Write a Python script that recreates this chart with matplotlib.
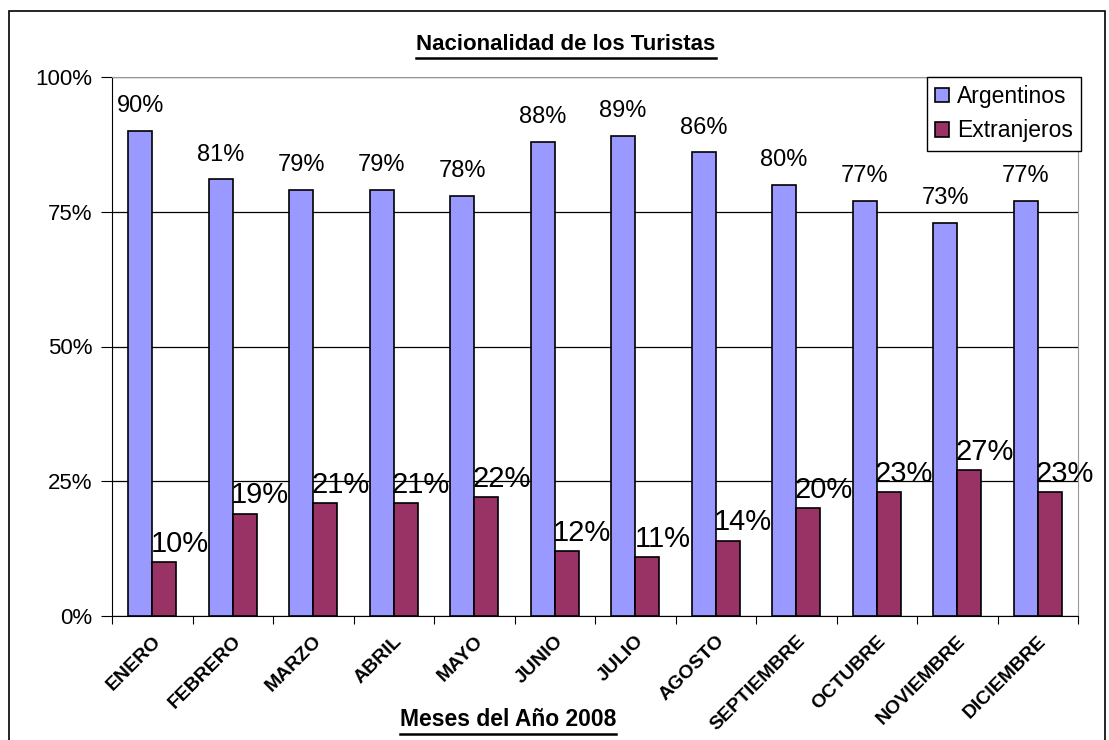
import numpy as np
import matplotlib
matplotlib.use("Agg")
from matplotlib import pyplot as plt
from matplotlib.patches import Rectangle
from matplotlib.lines import Line2D

# Data
meses = ['ENERO', 'FEBRERO', 'MARZO', 'ABRIL', 'MAYO', 'JUNIO', 'JULIO',
         'AGOSTO', 'SEPTIEMBRE', 'OCTUBRE', 'NOVIEMBRE', 'DICIEMBRE']
argentinos = [90, 81, 79, 79, 78, 88, 89, 86, 80, 77, 73, 77]
extranjeros = [10, 19, 21, 21, 22, 12, 11, 14, 20, 23, 27, 23]
y_ticks = [0, 25, 50, 75, 100]

plt.rcParams['font.family'] = ['Liberation Sans', 'DejaVu Sans']

fig = plt.figure(figsize=(11.09, 7.40), dpi=100)
ax = fig.add_axes([112 / 1109, 1 - 616 / 740, (1078 - 112) / 1109, (616 - 77) / 740])

x = np.arange(len(meses))
w = 0.3
b1 = ax.bar(x - w / 2, argentinos, w, color='#9999FF', edgecolor='black', linewidth=1.2,
            label='Argentinos', zorder=3)
b2 = ax.bar(x + w / 2, extranjeros, w, color='#993366', edgecolor='black', linewidth=1.2,
            label='Extranjeros', zorder=3)

# value labels
for rect, v in zip(b1, argentinos):
    ax.annotate(f'{v}%', (rect.get_x() + rect.get_width() / 2, v), xytext=(0, 10),
                textcoords='offset points', ha='center', va='bottom', fontsize=17)
for rect, v in zip(b2, extranjeros):
    ax.annotate(f'{v}%', (rect.get_x() + rect.get_width() / 2, v), xytext=(11, 3),
                textcoords='offset points', ha='center', va='bottom', fontsize=21)

ax.set_xlim(-0.5, len(meses) - 0.5)
ax.set_ylim(0, 100)
ax.set_yticks(y_ticks)
ax.set_yticklabels([f'{t}%' for t in y_ticks], fontsize=16)
ax.yaxis.grid(True, color='black', linewidth=0.9, zorder=0)
ax.set_axisbelow(True)

# category ticks at boundaries, labels at centers
ax.set_xticks(np.arange(len(meses) + 1) - 0.5)
ax.set_xticklabels([])
ax.set_xticks(x, minor=True)
ax.set_xticklabels(meses, minor=True, rotation=45, ha='right', va='top',
                   rotation_mode='anchor', fontsize=14, fontweight='bold')
ax.tick_params(axis='x', which='minor', length=0, pad=12)
ax.tick_params(axis='x', which='major', length=6, color='black', direction='out')
ax.tick_params(axis='y', length=8, color='black', pad=6)

ax.spines['left'].set_color('black')
ax.spines['bottom'].set_color('black')
ax.spines['top'].set_color('#999999')
ax.spines['right'].set_color('#999999')

leg = ax.legend(loc='upper right', bbox_to_anchor=(1.003, 1.0), fontsize=16.5,
                frameon=True, fancybox=False, edgecolor='black', framealpha=1,
                handlelength=0.6, handleheight=0.6, handletextpad=0.35,
                borderpad=0.35, labelspacing=0.5, borderaxespad=0)
leg.get_frame().set_linewidth(1.0)

# title and x label with underlines
title = fig.text(566 / 1109, 1 - 45 / 740, 'Nacionalidad de los Turistas',
                 ha='center', va='center', fontsize=16, fontweight='bold')
xlab = fig.text(508 / 1109, 1 - 720 / 740, 'Meses del Año 2008',
                ha='center', va='center', fontsize=16.5, fontweight='bold')

fig.canvas.draw()
r = fig.canvas.get_renderer()
for t in (title, xlab):
    bb = t.get_window_extent(r).transformed(fig.transFigure.inverted())
    y = bb.y0 - 0.003
    fig.add_artist(Line2D([bb.x0, bb.x1], [y, y], transform=fig.transFigure,
                          color='black', linewidth=1.8))

# outer chart border
fig.add_artist(Rectangle((9 / 1109, -0.05), (1105 - 9) / 1109, 1.05 - 11 / 740,
                         transform=fig.transFigure, fill=False, edgecolor='black',
                         linewidth=1.2))

fig.savefig('out.png', dpi=100)
